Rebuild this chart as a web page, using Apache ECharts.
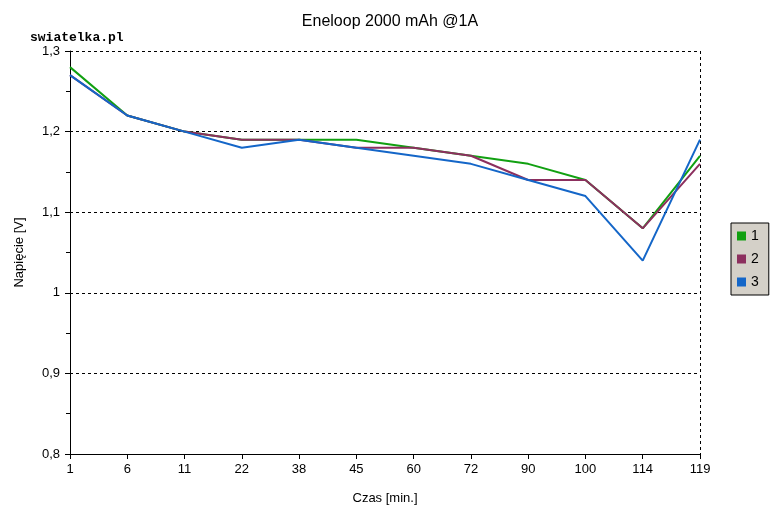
<!DOCTYPE html>
<html><head><meta charset="utf-8">
<script src="https://cdn.jsdelivr.net/npm/echarts@6/dist/echarts.min.js"></script>
<style>html,body{margin:0;padding:0;background:#fff}#c{width:780px;height:516px}</style>
</head><body><div id="c"></div>
<script>
const categories = ['1','6','11','22','38','45','60','72','90','100','114','119'];
const series1 = [1.28,1.22,1.20,1.19,1.19,1.19,1.18,1.17,1.16,1.14,1.08,1.17];
const series2 = [1.27,1.22,1.20,1.19,1.19,1.18,1.18,1.17,1.14,1.14,1.08,1.16];
const series3 = [1.27,1.22,1.20,1.18,1.19,1.18,1.17,1.16,1.14,1.12,1.04,1.19];
const seriesNames = ['1','2','3'];
const colors = ['#11a011','#8c2f5e','#1466c8'];

const chart = echarts.init(document.getElementById('c'));
const fontBase = 'Liberation Sans, Arial, sans-serif';
function mk(name, data, color, z) {
  return {name, type:'line', data, symbol:'none', z,
    lineStyle:{color, width:2}, itemStyle:{color}};
}
chart.setOption({
  animation:false,
  backgroundColor:'#fff',
  title:[{text:'Eneloop 2000 mAh @1A', left:385, top:9, textAlign:'center',
    textStyle:{fontFamily:fontBase, fontSize:16, fontWeight:'normal', color:'#000'}},
    {text:'swiatelka.pl', left:25, top:26,
    textStyle:{fontFamily:'Liberation Mono, DejaVu Sans Mono, monospace', fontSize:13, fontWeight:'bold', color:'#000'}}],
  legend:{orient:'vertical', left:731, top:223, width:36, height:70,
    data:seriesNames, icon:'rect', itemWidth:9, itemHeight:9, itemGap:9,
    backgroundColor:'#d4d0c8', borderColor:'#000', borderWidth:1,
    padding:[6,10,6,6],
    textStyle:{fontFamily:fontBase, fontSize:14, color:'#000'}},
  grid:{left:70, right:80, top:51, bottom:62, containLabel:false},
  xAxis:{type:'category', data:categories, boundaryGap:false,
    name:'Czas [min.]', nameLocation:'middle', nameGap:38,
    nameTextStyle:{fontFamily:fontBase, fontSize:13, color:'#000'},
    axisLine:{lineStyle:{color:'#000', width:1}},
    axisTick:{show:true, alignWithLabel:true, length:5, lineStyle:{color:'#000'}},
    axisLabel:{fontFamily:fontBase, fontSize:13, color:'#000', margin:9, interval:0},
    splitLine:{show:true, interval:(i)=>i===categories.length-1, lineStyle:{color:'#000', type:[3,3], width:1}}
  },
  yAxis:{type:'value', min:0.8, max:1.3, interval:0.1,
    name:'Napięcie [V]', nameLocation:'middle', nameGap:44,
    nameTextStyle:{fontFamily:fontBase, fontSize:13, color:'#000'},
    axisLine:{show:true, lineStyle:{color:'#000', width:1}},
    axisTick:{show:true, length:5, lineStyle:{color:'#000'}},
    minorTick:{show:true, splitNumber:2, length:4, lineStyle:{color:'#000'}},
    axisLabel:{fontFamily:fontBase, fontSize:13, color:'#000', margin:10,
      formatter:(v)=>{const r=Math.round(v*10)/10; return (r===1?'1':r.toFixed(1)).replace('.',',');}},
    splitLine:{show:true, lineStyle:{color:'#000', type:[3,3], width:1}}
  },
  series:[mk(seriesNames[0], series1, colors[0], 2), mk(seriesNames[1], series2, colors[1], 3), mk(seriesNames[2], series3, colors[2], 4)]
});
</script></body></html>
